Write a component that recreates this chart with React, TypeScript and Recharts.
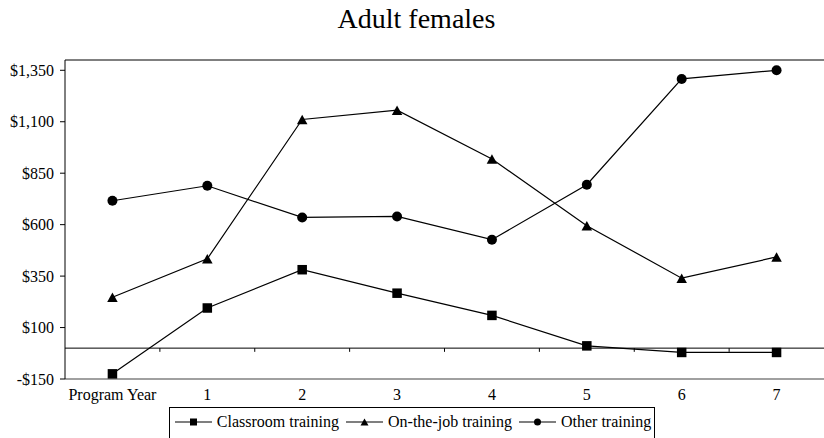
import { LineChart, Line, XAxis, YAxis, ReferenceLine, Legend } from "recharts";

const CATEGORIES = ["Program Year", "1", "2", "3", "4", "5", "6", "7"];
const CLASSROOM = [-125, 195, 381, 267, 159, 11, -21, -21];
const ON_THE_JOB = [247, 434, 1111, 1156, 919, 595, 340, 443];
const OTHER = [716, 789, 635, 640, 527, 794, 1308, 1350];
const Y_TICKS = [-150, 100, 350, 600, 850, 1100, 1350];
const Y_DOMAIN = [-150, 1400];
const SEPARATORS = [0.5, 1.5, 2.5, 3.5, 4.5, 5.5, 6.5];

const FONT = "'Liberation Serif', 'Times New Roman', serif";

const data = CATEGORIES.map((c, i) => ({
  x: i,
  label: c,
  classroom: CLASSROOM[i],
  onTheJob: ON_THE_JOB[i],
  other: OTHER[i],
}));

type Shape = "square" | "triangle" | "circle";

function marker(shape: Shape, cx: number, cy: number, s: number, key?: string | number) {
  if (shape === "square")
    return <rect key={key} x={cx - s / 2} y={cy - s / 2} width={s} height={s} fill="#000" />;
  if (shape === "triangle") {
    const h = s * 0.9;
    return (
      <polygon key={key} fill="#000"
        points={`${cx},${cy - h / 2} ${cx + s / 2},${cy + h / 2} ${cx - s / 2},${cy + h / 2}`} />
    );
  }
  return <circle key={key} cx={cx} cy={cy} r={s / 2} fill="#000" />;
}

const dotFor = (shape: Shape, size: number) => (props: any) =>
  marker(shape, props.cx, props.cy, size, `${shape}-${props.index}`);

const SERIES: { key: string; name: string; shape: Shape; size: number }[] = [
  { key: "classroom", name: "Classroom training", shape: "square", size: 9.5 },
  { key: "onTheJob", name: "On-the-job training", shape: "triangle", size: 10.5 },
  { key: "other", name: "Other training", shape: "circle", size: 10 },
];

function formatDollar(v: number): string {
  return v < 0 ? `-$${Math.abs(v).toLocaleString("en-US")}` : `$${v.toLocaleString("en-US")}`;
}

function LegendBox() {
  return (
    <div style={{ height: 31, display: "flex", justifyContent: "center", overflow: "visible" }}>
      <div style={{
        height: 34, boxSizing: "border-box", border: "1px solid #000", paddingLeft: 5, paddingRight: 3,
        display: "flex", alignItems: "flex-start", paddingTop: 5, fontFamily: FONT, fontSize: 16, background: "#fff",
      }}>
        {SERIES.map((s, i) => (
          <div key={s.key} style={{ display: "flex", alignItems: "center", marginLeft: i === 0 ? 0 : 7 }}>
            <svg width={37} height={14} style={{ display: "block" }}>
              <line x1={0} y1={7} x2={37} y2={7} stroke="#000" strokeWidth={1.2} />
              {marker(s.shape, 18.5, 7, s.shape === "triangle" ? 8 : 7)}
            </svg>
            <span style={{ marginLeft: 5, lineHeight: "18px" }}>{s.name}</span>
          </div>
        ))}
      </div>
    </div>
  );
}

export default function App() {
  return (
    <div style={{ position: "absolute", left: 0, top: 0, width: 824, height: 438, background: "#fff", fontFamily: FONT }}>
      <div style={{ position: "absolute", top: 2, left: 0, width: 833, textAlign: "center", fontSize: 28, lineHeight: "34px" }}>
        Adult females
      </div>
      <LineChart width={824} height={438} data={data} margin={{ top: 60, right: 0, bottom: 0, left: 0 }}>
        <XAxis
          dataKey="x" type="number" domain={[-0.5, 7.5]} ticks={data.map((d) => d.x)}
          tickFormatter={(v) => CATEGORIES[v]} interval={0} allowDataOverflow
          height={28} tickLine={false} tickSize={4} tickMargin={6}
          axisLine={{ stroke: "#808080", strokeWidth: 1.4 }}
          tick={{ fill: "#000", fontSize: 16, fontFamily: FONT }}
        />
        <YAxis
          domain={Y_DOMAIN} ticks={Y_TICKS} interval={0} allowDataOverflow width={65}
          tickFormatter={formatDollar} tickSize={5} tickMargin={6}
          axisLine={{ stroke: "#000" }} tickLine={{ stroke: "#000" }}
          tick={{ fill: "#000", fontSize: 16, fontFamily: FONT }}
        />
        <ReferenceLine y={Y_DOMAIN[1]} stroke="#000" />
        <ReferenceLine y={0} stroke="#000" />
        {SEPARATORS.map((b) => (
          <ReferenceLine key={b} segment={[{ x: b, y: 0 }, { x: b, y: -18 }]} stroke="#000" ifOverflow="visible" />
        ))}
        {SERIES.map((s) => (
          <Line key={s.key} dataKey={s.key} name={s.name} type="linear" stroke="#000" strokeWidth={1.2}
            dot={dotFor(s.shape, s.size)} activeDot={false} isAnimationActive={false} />
        ))}
        <Legend verticalAlign="bottom" content={() => <LegendBox />} />
      </LineChart>
    </div>
  );
}
